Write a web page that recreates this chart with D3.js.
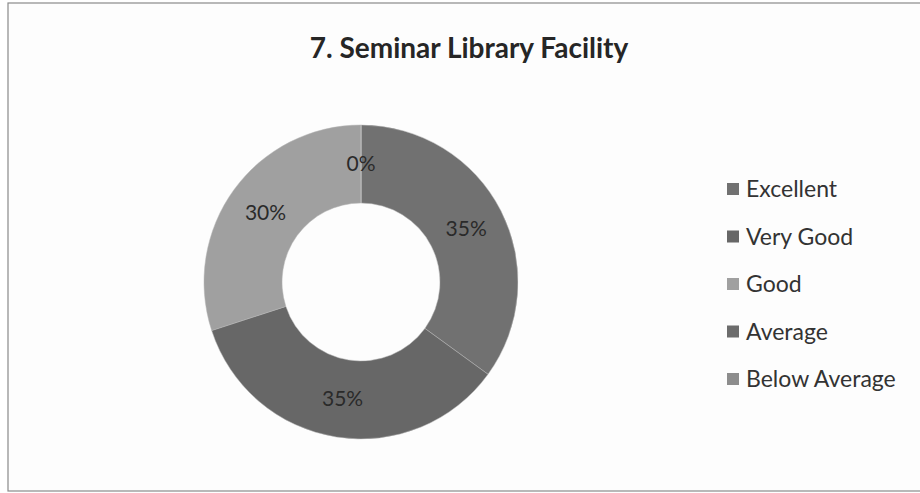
<!DOCTYPE html>
<html>
<head>
<meta charset="utf-8">
<script src="https://cdn.jsdelivr.net/npm/d3@7"></script>
<style>
  body { margin: 0; background: #ffffff; }
  svg { display: block; }
</style>
</head>
<body>
<div id="chart"></div>
<script>
// survey answers, share of respondents
var categories = ["Excellent", "Very Good", "Good", "Average", "Below Average"];
var shares = [35, 35, 30, 0, 0];
var sliceColors = ["#717171", "#676767", "#a0a0a0", "#6c6c6c", "#8d8d8d"];
var title = "7. Seminar Library Facility";

var width = 920, height = 493;

var svg = d3.select("#chart")
  .append("svg")
  .attr("width", width)
  .attr("height", height);

// chart frame
svg.append("rect")
  .attr("x", 8).attr("y", 3)
  .attr("width", width + 10).attr("height", 488)
  .attr("fill", "#fdfdfd")
  .attr("stroke", "#8a8a8a")
  .attr("stroke-width", 1.2);

svg.append("text")
  .attr("x", 469)
  .attr("y", 58)
  .attr("text-anchor", "middle")
  .style("font-family", "Lato, 'Open Sans', sans-serif")
  .style("font-weight", "bold")
  .style("font-size", "28px")
  .attr("fill", "#262626")
  .text(title);

var color = d3.scaleOrdinal().domain(categories).range(sliceColors);

var outerR = 157, innerR = 79;
var pie = d3.pie().sort(null).value(function(d) { return d.value; });
var arc = d3.arc().innerRadius(innerR).outerRadius(outerR);
var labelArc = d3.arc().innerRadius((outerR + innerR) / 2).outerRadius((outerR + innerR) / 2);

var data = categories.map(function(c, i) { return { name: c, value: shares[i] }; });
var arcs = pie(data);

var g = svg.append("g")
  .attr("transform", "translate(361,282)");

g.selectAll("path")
  .data(arcs)
  .enter().append("path")
  .attr("d", arc)
  .attr("fill", function(d) { return color(d.data.name); })
  .attr("stroke", "#b5b5b5")
  .attr("stroke-width", 0.5);

// Excel puts the two 0% labels on top of each other, so only one shows
g.selectAll("text.lbl")
  .data(arcs.filter(function(d, i) { return i < 4; }))
  .enter().append("text")
  .attr("class", "lbl")
  .attr("transform", function(d) { return "translate(" + labelArc.centroid(d) + ")"; })
  .attr("dy", "0.35em")
  .attr("text-anchor", "middle")
  .style("font-family", "Lato, 'Open Sans', sans-serif")
  .style("font-size", "21px")
  .attr("fill", "#2a2a2a")
  .text(function(d) { return d.data.value + "%"; });

var yLegend = d3.scalePoint().domain(categories).range([189, 379]);

var legend = svg.append("g");
var item = legend.selectAll("g")
  .data(categories)
  .enter().append("g")
  .attr("transform", function(d) { return "translate(727," + yLegend(d) + ")"; });

item.append("rect")
  .attr("x", 0).attr("y", -6)
  .attr("width", 12).attr("height", 12)
  .attr("fill", function(d) { return color(d); });

item.append("text")
  .attr("x", 19)
  .attr("dy", "0.36em")
  .style("font-family", "Lato, 'Open Sans', sans-serif")
  .style("font-size", "23px")
  .attr("fill", "#333333")
  .text(function(d) { return d; });
</script>
</body>
</html>
